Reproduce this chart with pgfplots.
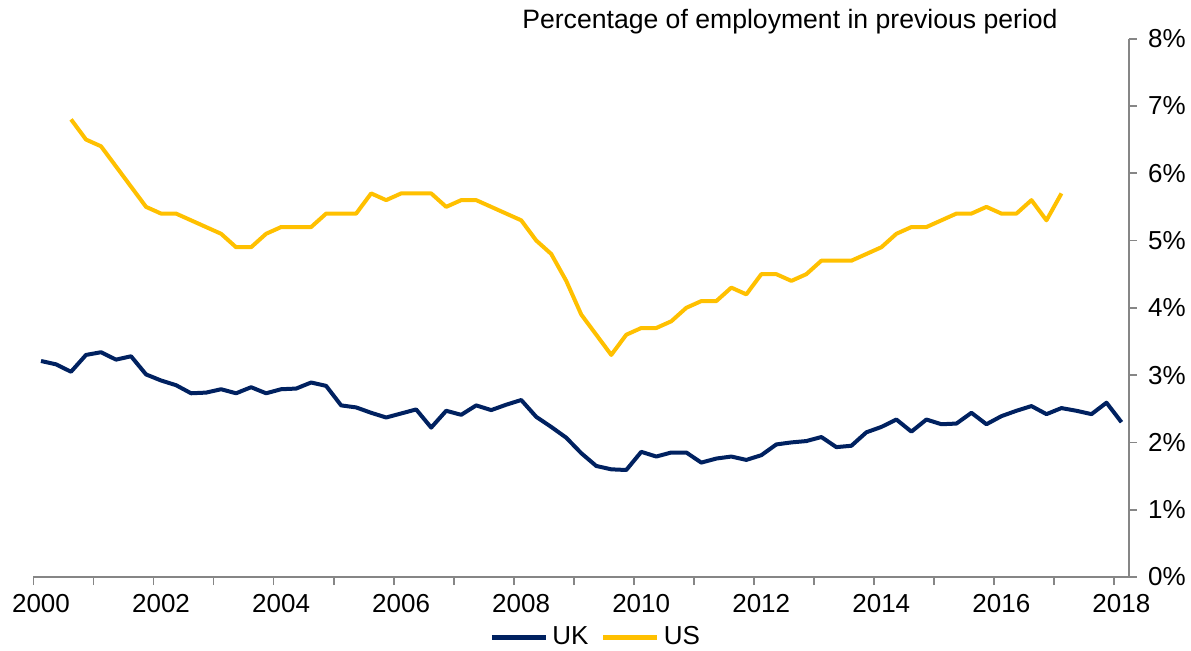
\documentclass[border=0pt]{standalone}
\usepackage{fontspec}
\setmainfont{Liberation Sans}
\usepackage{pgfplots}
\pgfplotsset{compat=1.18}
\definecolor{ukblue}{RGB}{0,33,96}
\definecolor{usgold}{RGB}{255,192,0}
\definecolor{axgray}{RGB}{134,134,134}
\begin{document}
\begin{tikzpicture}
\path[use as bounding box] (-16.75pt,-36.5pt) rectangle (578.75pt,288.5pt);
\begin{axis}[
  at={(0,0)}, anchor=south west,
  scale only axis,
  width=547.75pt, height=269.2pt,
  xmin=2000, xmax=2018.25,
  ymin=0, ymax=8,
  axis x line=bottom, axis y line=right,
  axis line style={-, draw=axgray, line width=0.9pt},
  tick style={draw=axgray, line width=0.9pt},
  tick align=outside,
  major tick length=4pt,
  xtick={2000,...,2018},
  xticklabels={2000,,2002,,2004,,2006,,2008,,2010,,2012,,2014,,2016,,2018},
  xticklabel style={xshift=3.75pt, yshift=-1pt, font=\fontsize{13}{15.5}\selectfont},
  ytick={0,1,...,8},
  yticklabels={0\%,1\%,2\%,3\%,4\%,5\%,6\%,7\%,8\%},
  yticklabel style={xshift=2pt, font=\fontsize{13}{15.5}\selectfont},
  legend columns=2,
  legend style={draw=none, fill=none, at={(0.514,-0.112)}, anchor=center,
    inner sep=0.5pt,
    font=\fontsize{13}{15.5}\selectfont,
    /tikz/every even column/.append style={column sep=4pt}},
  legend image code/.code={\draw[#1, line width=2.6pt] (0pt,0pt) -- (27pt,0pt);},
  clip=false,
]
\addplot[ukblue, line width=2pt, line join=round] table {
x y
2000.125 3.21
2000.375 3.16
2000.625 3.05
2000.875 3.30
2001.125 3.34
2001.375 3.23
2001.625 3.28
2001.875 3.01
2002.125 2.92
2002.375 2.85
2002.625 2.73
2002.875 2.74
2003.125 2.79
2003.375 2.73
2003.625 2.82
2003.875 2.73
2004.125 2.79
2004.375 2.80
2004.625 2.89
2004.875 2.84
2005.125 2.55
2005.375 2.52
2005.625 2.44
2005.875 2.37
2006.125 2.43
2006.375 2.49
2006.625 2.22
2006.875 2.47
2007.125 2.41
2007.375 2.55
2007.625 2.48
2007.875 2.56
2008.125 2.63
2008.375 2.38
2008.625 2.23
2008.875 2.07
2009.125 1.84
2009.375 1.65
2009.625 1.60
2009.875 1.59
2010.125 1.86
2010.375 1.79
2010.625 1.85
2010.875 1.85
2011.125 1.70
2011.375 1.76
2011.625 1.79
2011.875 1.74
2012.125 1.81
2012.375 1.97
2012.625 2.00
2012.875 2.02
2013.125 2.08
2013.375 1.93
2013.625 1.95
2013.875 2.15
2014.125 2.23
2014.375 2.34
2014.625 2.16
2014.875 2.34
2015.125 2.27
2015.375 2.28
2015.625 2.44
2015.875 2.27
2016.125 2.39
2016.375 2.47
2016.625 2.54
2016.875 2.42
2017.125 2.51
2017.375 2.47
2017.625 2.42
2017.875 2.59
2018.125 2.30
};
\addlegendentry{UK}
\addplot[usgold, line width=2pt, line join=round] table {
x y
2000.625 6.8
2000.875 6.5
2001.125 6.4
2001.375 6.1
2001.625 5.8
2001.875 5.5
2002.125 5.4
2002.375 5.4
2002.625 5.3
2002.875 5.2
2003.125 5.1
2003.375 4.9
2003.625 4.9
2003.875 5.1
2004.125 5.2
2004.375 5.2
2004.625 5.2
2004.875 5.4
2005.125 5.4
2005.375 5.4
2005.625 5.7
2005.875 5.6
2006.125 5.7
2006.375 5.7
2006.625 5.7
2006.875 5.5
2007.125 5.6
2007.375 5.6
2007.625 5.5
2007.875 5.4
2008.125 5.3
2008.375 5.0
2008.625 4.8
2008.875 4.4
2009.125 3.9
2009.375 3.6
2009.625 3.3
2009.875 3.6
2010.125 3.7
2010.375 3.7
2010.625 3.8
2010.875 4.0
2011.125 4.1
2011.375 4.1
2011.625 4.3
2011.875 4.2
2012.125 4.5
2012.375 4.5
2012.625 4.4
2012.875 4.5
2013.125 4.7
2013.375 4.7
2013.625 4.7
2013.875 4.8
2014.125 4.9
2014.375 5.1
2014.625 5.2
2014.875 5.2
2015.125 5.3
2015.375 5.4
2015.625 5.4
2015.875 5.5
2016.125 5.4
2016.375 5.4
2016.625 5.6
2016.875 5.3
2017.125 5.7
};
\addlegendentry{US}
\end{axis}
\node[anchor=east, font=\fontsize{13.3}{16}\selectfont, inner sep=0pt] at (512.25pt,277.5pt) {Percentage of employment in previous period};
\end{tikzpicture}
\end{document}
